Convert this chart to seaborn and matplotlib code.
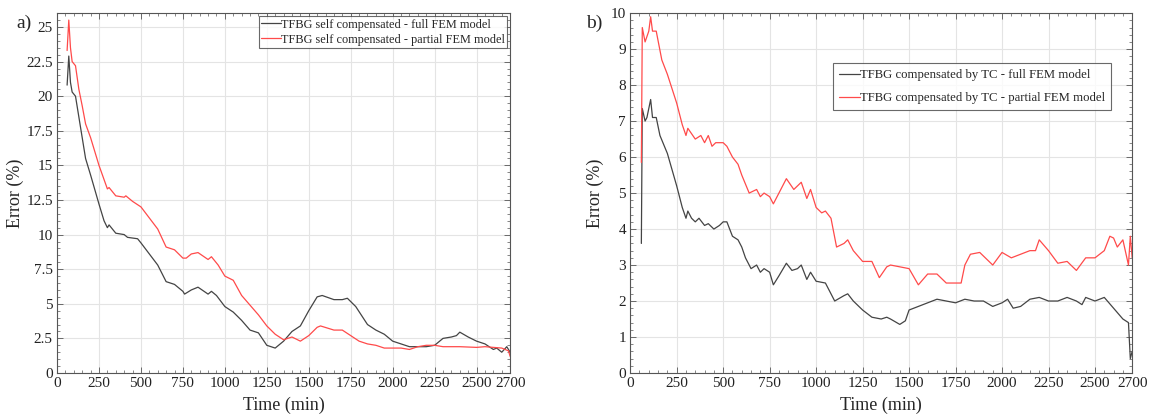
import numpy as np
import pandas as pd
import matplotlib
matplotlib.use("Agg")
import matplotlib.pyplot as plt
from matplotlib.ticker import MultipleLocator, FixedLocator
import seaborn as sns

# ---------------- data ----------------
a_full_t = [60, 70, 80, 90, 110, 130, 150, 170, 200, 250, 280, 300, 310, 350, 400, 420, 480, 500,
            550, 600, 650, 700, 750, 760, 800, 840, 900, 920, 950, 1000, 1050, 1100, 1150, 1200,
            1250, 1300, 1350, 1400, 1450, 1500, 1550, 1580, 1650, 1700, 1730, 1780, 1850, 1900,
            1950, 2000, 2050, 2100, 2200, 2250, 2300, 2350, 2380, 2400, 2450, 2500, 2550, 2600,
            2620, 2650, 2680, 2700]
a_full_e = [20.8, 22.9, 21.0, 20.3, 20.0, 18.5, 17.0, 15.5, 14.3, 12.2, 11.0, 10.5, 10.7, 10.1, 10.0, 9.8, 9.7, 9.4,
            8.6, 7.8, 6.6, 6.4, 5.9, 5.7, 6.0, 6.2, 5.7, 5.9, 5.6, 4.8, 4.4, 3.8, 3.1, 2.9,
            2.0, 1.8, 2.3, 3.0, 3.4, 4.5, 5.5, 5.6, 5.3, 5.3, 5.4, 4.8, 3.5, 3.1,
            2.8, 2.3, 2.1, 1.9, 1.9, 2.0, 2.5, 2.6, 2.7, 2.95, 2.6, 2.3, 2.1, 1.7,
            1.8, 1.5, 1.9, 1.5]

a_part_t = [60, 70, 80, 90, 110, 130, 150, 170, 200, 250, 300, 310, 350, 400, 410, 450, 500, 550, 600,
            650, 700, 750, 770, 800, 840, 900, 920, 960, 1000, 1050, 1100, 1150, 1200, 1250, 1300,
            1350, 1400, 1450, 1500, 1550, 1570, 1650, 1700, 1750, 1800, 1850, 1900, 1950, 2000,
            2050, 2100, 2150, 2200, 2250, 2300, 2400, 2500, 2550, 2600, 2650, 2690, 2700]
a_part_e = [23.3, 25.5, 23.5, 22.5, 22.2, 20.5, 19.3, 18.0, 17.0, 15.0, 13.3, 13.4, 12.8, 12.7, 12.8, 12.4, 12.0, 11.2, 10.4,
            9.1, 8.9, 8.3, 8.3, 8.6, 8.7, 8.2, 8.4, 7.8, 7.0, 6.7, 5.6, 4.9, 4.2, 3.4, 2.8,
            2.4, 2.6, 2.3, 2.7, 3.3, 3.4, 3.1, 3.1, 2.7, 2.3, 2.1, 2.0, 1.8, 1.8,
            1.8, 1.7, 1.9, 2.0, 2.0, 1.9, 1.9, 1.85, 1.9, 1.85, 1.8, 1.6, 1.2]

b_full_t = [60, 65, 80, 90, 110, 120, 140, 160, 200, 250, 280, 300, 310, 330, 350, 370, 400, 420, 450,
            480, 500, 520, 550, 580, 600, 620, 650, 680, 700, 720, 750, 770, 800, 840, 870, 900,
            920, 950, 970, 1000, 1050, 1100, 1150, 1170, 1200, 1250, 1300, 1350, 1380, 1400, 1450,
            1480, 1500, 1550, 1600, 1650, 1700, 1750, 1800, 1850, 1900, 1950, 2000, 2030, 2060,
            2100, 2150, 2200, 2250, 2300, 2350, 2400, 2430, 2450, 2500, 2550, 2600, 2650, 2680,
            2690, 2700]
b_full_e = [3.6, 7.35, 7.0, 7.1, 7.6, 7.1, 7.1, 6.6, 6.1, 5.2, 4.6, 4.3, 4.5, 4.3, 4.2, 4.3, 4.1, 4.15, 4.0,
            4.1, 4.2, 4.2, 3.8, 3.7, 3.5, 3.2, 2.9, 3.0, 2.8, 2.9, 2.8, 2.45, 2.7, 3.05, 2.85, 2.9,
            3.0, 2.6, 2.8, 2.55, 2.5, 2.0, 2.15, 2.2, 2.0, 1.75, 1.55, 1.5, 1.55, 1.5, 1.35,
            1.45, 1.75, 1.85, 1.95, 2.05, 2.0, 1.95, 2.05, 2.0, 2.0, 1.85, 1.95, 2.05, 1.8,
            1.85, 2.05, 2.1, 2.0, 2.0, 2.1, 2.0, 1.9, 2.1, 2.0, 2.1, 1.8, 1.5, 1.4,
            0.4, 0.6]

b_part_t = [60, 65, 80, 100, 110, 120, 140, 170, 200, 250, 280, 300, 310, 350, 380, 400, 420, 440, 460,
            500, 520, 550, 580, 600, 640, 680, 700, 720, 750, 770, 800, 840, 880, 920, 950, 970,
            1000, 1030, 1050, 1080, 1110, 1150, 1170, 1200, 1250, 1300, 1340, 1380, 1400, 1450,
            1500, 1550, 1600, 1650, 1700, 1750, 1780, 1800, 1830, 1880, 1950, 2000, 2050, 2100,
            2150, 2180, 2200, 2250, 2300, 2350, 2400, 2450, 2500, 2550, 2580, 2600, 2620, 2650,
            2680, 2690, 2700]
b_part_e = [5.85, 9.6, 9.2, 9.5, 9.9, 9.5, 9.5, 8.7, 8.3, 7.5, 6.9, 6.6, 6.8, 6.5, 6.6, 6.4, 6.6, 6.3, 6.4,
            6.4, 6.3, 6.0, 5.8, 5.5, 5.0, 5.1, 4.9, 5.0, 4.9, 4.7, 5.0, 5.4, 5.1, 5.3, 4.85, 5.1,
            4.6, 4.45, 4.5, 4.3, 3.5, 3.6, 3.7, 3.4, 3.1, 3.1, 2.65, 2.95, 3.0, 2.95,
            2.9, 2.45, 2.75, 2.75, 2.5, 2.5, 2.5, 3.0, 3.3, 3.35, 3.0, 3.35, 3.2, 3.3,
            3.4, 3.4, 3.7, 3.4, 3.05, 3.1, 2.85, 3.2, 3.2, 3.4, 3.8, 3.75, 3.5, 3.7,
            3.0, 3.8, 3.2]

a_labels = ["TFBG self compensated - full FEM model", "TFBG self compensated - partial FEM model"]
b_labels = ["TFBG compensated by TC - full FEM model", "TFBG compensated by TC - partial FEM model"]
x_ticks = [0, 250, 500, 750, 1000, 1250, 1500, 1750, 2000, 2250, 2500, 2700]
a_yticks = [0, 2.5, 5, 7.5, 10, 12.5, 15, 17.5, 20, 22.5, 25]
a_ytick_labels = ["0", "2.5", "5", "7.5", "10", "12.5", "15", "17.5", "20", "22.5", "25"]
b_yticks = [0, 1, 2, 3, 4, 5, 6, 7, 8, 9, 10]

# ---------------- style ----------------
sns.set_style("ticks")
plt.rcParams["font.family"] = ["Liberation Serif", "DejaVu Serif"]

COL_FULL = "#444444"
COL_PART = "#ff4a4a"

fig = plt.figure(figsize=(11.5, 4.16), dpi=100)
axA = fig.add_axes([0.0496, 0.1034, 0.394, 0.865])
axB = fig.add_axes([0.548, 0.1034, 0.4365, 0.865])


def make_df(t1, e1, l1, t2, e2, l2):
    d1 = pd.DataFrame({"t": t1, "e": e1, "s": l1})
    d2 = pd.DataFrame({"t": t2, "e": e2, "s": l2})
    return pd.concat([d1, d2], ignore_index=True)


dfA = make_df(a_full_t, a_full_e, a_labels[0], a_part_t, a_part_e, a_labels[1])
dfB = make_df(b_full_t, b_full_e, b_labels[0], b_part_t, b_part_e, b_labels[1])

sns.lineplot(data=dfA, x="t", y="e", hue="s", palette=[COL_FULL, COL_PART],
             linewidth=0.9, ax=axA, sort=False, estimator=None)
sns.lineplot(data=dfB, x="t", y="e", hue="s", palette=[COL_FULL, COL_PART],
             linewidth=0.9, ax=axB, sort=False, estimator=None)


def style_axes(ax, ylim, yticks, ylabels, yminor, ylab_x):
    ax.set_xlim(0, 2700)
    ax.set_ylim(*ylim)
    ax.xaxis.set_major_locator(FixedLocator(x_ticks))
    ax.xaxis.set_minor_locator(MultipleLocator(50))
    ax.set_xticklabels([str(v) for v in x_ticks])
    ax.set_yticks(yticks)
    ax.set_yticklabels(ylabels)
    ax.yaxis.set_minor_locator(MultipleLocator(yminor))
    ax.grid(True, which="major", color="#e4e4e4", linewidth=0.8)
    ax.set_axisbelow(True)
    ax.tick_params(which="both", direction="in", top=True, right=True,
                   labelsize=11, colors="#222222", pad=3)
    ax.tick_params(which="major", length=4, width=0.6, color="#555555")
    ax.tick_params(which="minor", length=2, width=0.5, color="#555555")
    for s in ax.spines.values():
        s.set_color("#555555")
        s.set_linewidth(0.8)
    ax.set_xlabel("Time (min)", fontsize=13)
    ax.set_ylabel("Error (%)", fontsize=13)
    ax.xaxis.set_label_coords(0.5, -0.065)
    ax.yaxis.set_label_coords(ylab_x, 0.5)


style_axes(axA, (0, 26), a_yticks, a_ytick_labels, 0.5, -0.073)
style_axes(axB, (0, 10), b_yticks, [str(v) for v in b_yticks], 0.2, -0.052)

legA = axA.legend(loc="upper right", fontsize=8.8, frameon=True, fancybox=False,
                  borderpad=0.2, handlelength=1.6, handletextpad=0.0,
                  borderaxespad=0.25, labelspacing=0.25)
legA.get_frame().set_edgecolor("#444444")
legA.get_frame().set_linewidth(0.8)

legB = axB.legend(loc="upper left", bbox_to_anchor=(0.404, 0.862), fontsize=9.2,
                  frameon=True, fancybox=False, borderpad=0.5, handlelength=1.6,
                  handletextpad=0.0, labelspacing=0.85, borderaxespad=0.0)
legB.get_frame().set_edgecolor("#444444")
legB.get_frame().set_linewidth(0.8)

fig.text(0.014, 0.965, "a)", fontsize=14, ha="left", va="top")
fig.text(0.510, 0.965, "b)", fontsize=14, ha="left", va="top")

fig.savefig("out.png", dpi=100, facecolor="white")
